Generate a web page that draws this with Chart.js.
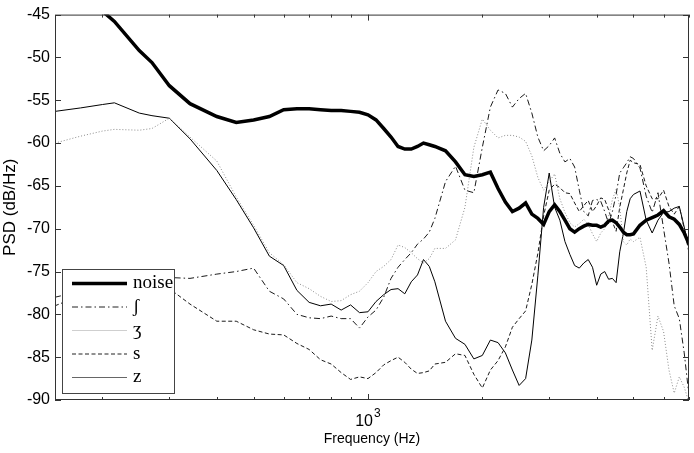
<!DOCTYPE html>
<html>
<head>
<meta charset="utf-8">
<script src="https://cdn.jsdelivr.net/npm/chart.js@4.4.1/dist/chart.umd.min.js"></script>
<style>
  html, body { margin: 0; padding: 0; background: #fff; }
  #chart { display: block; }
</style>
</head>
<body>
<canvas id="chart" width="694" height="453"></canvas>
<script>
// frequency bins (Hz) shared by every curve
const freqHz = [
  150, 175, 200, 215, 250, 270, 300, 340, 400, 450,
  500, 550, 600, 650, 700, 750, 800, 850, 900, 950,
  1000, 1050, 1100, 1150, 1200, 1250, 1300, 1350, 1400, 1450,
  1500, 1600, 1700, 1800, 1900,
  2000, 2100, 2200, 2300, 2400, 2500, 2600, 2700, 2800, 2900,
  3000, 3100, 3200, 3300, 3400, 3500, 3600, 3700, 3800, 3900,
  4000, 4100, 4200, 4300, 4400, 4500, 4600, 4700, 4800, 4900,
  5000, 5200, 5400, 5600, 5800, 6000, 6200, 6400, 6600, 6800, 7000,
];

// PSD values (dB/Hz)
const noise = [
  -40, -42.5, -44.6, -45.8, -49.2, -50.6, -53.3, -55.4, -56.9, -57.6,
  -57.3, -56.9, -56.1, -56.0, -56.0, -56.1, -56.2, -56.2, -56.3, -56.4,
  -56.7, -57.3, -58.3, -59.3, -60.4, -60.7, -60.7, -60.4, -60.0, -60.2,
  -60.4, -60.9, -62.2, -63.7, -63.9,
  -63.7, -63.4, -65.3, -66.9, -68.0, -67.6, -67.0, -68.3, -68.8, -69.5,
  -68.0, -67.2, -68.0, -69.0, -70.0, -70.4, -70.0, -69.7, -69.5, -69.6,
  -69.6, -69.8, -69.6, -69.1, -69.0, -69.3, -69.8, -70.4, -70.7, -70.7,
  -70.6, -69.6, -69.0, -68.7, -68.4, -67.9, -68.6, -68.9, -69.5, -70.5, -71.8,
];

const esh = [
  -78.0, -77.3, -76.8, -76.5, -76.0, -75.8, -75.7, -75.8, -75.3, -75.0,
  -74.6, -77.3, -78.2, -80.0, -80.4, -80.5, -80.2, -80.5, -80.5, -81.6,
  -80.3, -79.5, -78.0, -75.8, -74.5, -73.6, -72.8, -71.8, -71.2, -70.4,
  -68.8, -64.5, -62.7, -65.5, -65.8,
  -60.5, -55.8, -53.8, -54.2, -55.8, -54.8, -54.2, -56.5, -59.3, -60.9,
  -60.3, -59.4, -61.2, -62.2, -61.8, -62.8, -65.5, -68.0, -68.5, -66.7,
  -66.6, -66.8, -68.0, -69.4, -68.0, -66.0, -63.5, -62.9, -62.3, -61.6,
  -61.8, -62.9, -66.2, -68.1, -65.8, -70.0, -74.0, -79.0, -80.5, -84.5, -89.5,
];

const ezh = [
  -60.0, -59.2, -58.6, -58.4, -58.5, -58.3, -57.1, -59.3, -62.1, -66.3,
  -69.6, -72.8, -74.2, -76.3, -77.0, -77.9, -78.5, -78.4, -77.7, -77.3,
  -76.3, -75.0, -74.4, -73.6, -71.9, -72.2, -72.8, -73.5, -74.0, -73.5,
  -72.3, -72.3, -71.3, -67.5, -60.5,
  -57.2, -58.5, -59.4, -59.1, -59.1, -59.3, -59.8, -61.5, -64.0, -65.5,
  -64.5, -63.6, -66.5, -68.1, -69.3, -69.8, -69.4, -68.9, -69.5, -70.6,
  -71.5, -70.5, -70.0, -68.5, -66.6, -65.4, -67.5, -71.5, -71.9, -71.2,
  -71.5, -71.0, -74.5, -84.2, -80.2, -82.0, -86.5, -89.2, -87.3, -88.5, -90.3,
];

const sSound = [
  -79.0, -77.8, -76.8, -76.3, -76.2, -76.5, -77.0, -78.8, -80.8, -80.8,
  -81.8, -82.3, -82.4, -83.4, -84.1, -85.3, -85.8, -86.8, -87.6, -87.3,
  -87.5, -86.8, -85.9, -85.4, -85.0, -85.6, -86.4, -86.9, -86.8, -86.6,
  -85.8, -85.6, -84.6, -84.8, -87.0,
  -88.6, -86.5, -85.4, -83.8, -81.5, -80.5, -79.6, -76.5, -72.9, -68.5,
  -65.5, -64.8, -65.2, -65.8, -65.9, -67.0, -68.0, -67.3, -66.7, -68.0,
  -67.3, -66.4, -66.6, -67.8, -69.2, -70.3, -67.5, -65.5, -63.5, -62.0,
  -62.3, -62.5, -65.0, -66.5, -66.5, -65.5, -67.4, -68.3, -67.4, -70.0, -72.8,
];

const zSound = [
  -56.3, -55.9, -55.5, -55.3, -56.5, -56.8, -57.1, -59.5, -63.2, -66.6,
  -69.9, -73.2, -74.3, -77.2, -78.6, -79.0, -78.8, -79.5, -78.9, -79.8,
  -79.7, -78.5, -77.7, -77.1, -77.0, -77.6, -76.2, -75.4, -73.6, -74.4,
  -76.2, -80.8, -82.8, -83.5, -85.2,
  -84.8, -83.0, -83.3, -84.5, -86.5, -88.3, -87.5, -83.0, -75.5, -67.5,
  -63.5, -67.5, -69.0, -71.5, -73.0, -74.3, -74.6, -74.0, -73.6, -74.5,
  -76.6, -75.3, -75.0, -75.9, -75.8, -76.3, -72.7, -70.6, -68.0, -66.5,
  -66.0, -65.6, -69.0, -70.5, -69.0, -68.1, -68.0, -67.6, -67.4, -69.8, -72.2,
];

const seriesLabels = ["noise", "\u0283", "\u0292", "s", "z"];

// axis ticks
const yTickValues = [-90, -85, -80, -75, -70, -65, -60, -55, -50, -45];
const xMinorTicks = [200, 300, 400, 500, 600, 700, 800, 900, 2000, 3000, 4000, 5000, 6000, 7000];
const xMajorTicks = [1000];
const xMajorLabels = [["10", "3"]];

function qs(selector, parent = document) {
  return parent.querySelector(selector);
}

function points(values) {
  return freqHz.map((f, i) => ({ x: f, y: values[i] }));
}

// MATLAB-like box with inward ticks and the 10^3 label
const boxTicks = {
  id: "boxTicks",
  afterDraw(chart) {
    const { ctx, chartArea: a, scales } = chart;
    ctx.save();
    ctx.strokeStyle = "#333";
    ctx.lineWidth = 1;
    ctx.strokeRect(a.left + 0.5, a.top + 0.5, a.right - a.left - 1, a.bottom - a.top - 1);
    ctx.beginPath();
    yTickValues.forEach((v) => {
      const py = Math.round(scales.y.getPixelForValue(v)) + 0.5;
      ctx.moveTo(a.left, py);
      ctx.lineTo(a.left + 6, py);
      ctx.moveTo(a.right - 6, py);
      ctx.lineTo(a.right, py);
    });
    const xTick = (v, len) => {
      const px = Math.round(scales.x.getPixelForValue(v)) + 0.5;
      ctx.moveTo(px, a.bottom);
      ctx.lineTo(px, a.bottom - len);
      ctx.moveTo(px, a.top);
      ctx.lineTo(px, a.top + len);
    };
    xMinorTicks.forEach((v) => xTick(v, 3));
    xMajorTicks.forEach((v) => xTick(v, 6));
    ctx.stroke();

    ctx.fillStyle = "#000";
    ctx.textBaseline = "alphabetic";
    xMajorTicks.forEach((v, i) => {
      const px = scales.x.getPixelForValue(v);
      const [base, exp] = xMajorLabels[i];
      ctx.font = "16px 'Liberation Sans', Arial, sans-serif";
      ctx.textAlign = "right";
      ctx.fillText(base, px + 5, 426);
      ctx.font = "12px 'Liberation Sans', Arial, sans-serif";
      ctx.textAlign = "left";
      ctx.fillText(exp, px + 6, 417);
    });
    ctx.restore();
  },
};

// legend box drawn inside the plot, bottom left
const legendStyles = [
  { color: "#000", width: 3.5, dash: [] },
  { color: "#222", width: 1, dash: [6, 3, 1.5, 3] },
  { color: "#cfcfcf", width: 1.2, dash: [] },
  { color: "#222", width: 1, dash: [4, 2.5] },
  { color: "#666", width: 1.2, dash: [] },
];

const insideLegend = {
  id: "insideLegend",
  afterDraw(chart) {
    const { ctx, chartArea: a } = chart;
    const x0 = a.left + 7;
    const y0 = a.bottom - 131;
    ctx.save();
    ctx.fillStyle = "#fff";
    ctx.fillRect(x0, y0, 112, 124);
    ctx.strokeStyle = "#444";
    ctx.lineWidth = 1;
    ctx.strokeRect(x0 + 0.5, y0 + 0.5, 112, 124);
    chart.data.datasets.forEach((ds, i) => {
      const st = legendStyles[i];
      const y = y0 + 14.5 + i * 23.5;
      ctx.beginPath();
      ctx.setLineDash(st.dash);
      ctx.lineWidth = st.width;
      ctx.strokeStyle = st.color;
      ctx.moveTo(x0 + 10, y);
      ctx.lineTo(x0 + 65, y);
      ctx.stroke();
      ctx.setLineDash([]);
      ctx.fillStyle = "#000";
      ctx.font = "19px 'Liberation Serif', 'Times New Roman', serif";
      ctx.textAlign = "left";
      ctx.textBaseline = "middle";
      ctx.fillText(ds.label, x0 + 71, y);
    });
    ctx.restore();
  },
};

function chart() {
  const ctx = qs("#chart").getContext("2d");
  new Chart(ctx, {
    type: "line",
    data: {
      datasets: [
        { label: seriesLabels[0], data: points(noise), borderColor: "#000", borderWidth: 3.5 },
        { label: seriesLabels[1], data: points(esh), borderColor: "#1a1a1a", borderWidth: 1, borderDash: [6, 3, 1.5, 3] },
        { label: seriesLabels[2], data: points(ezh), borderColor: "#8c8c8c", borderWidth: 1, borderDash: [1, 2] },
        { label: seriesLabels[3], data: points(sSound), borderColor: "#1a1a1a", borderWidth: 1, borderDash: [4, 2.5] },
        { label: seriesLabels[4], data: points(zSound), borderColor: "#000", borderWidth: 1 },
      ],
    },
    options: {
      responsive: false,
      animation: false,
      devicePixelRatio: 1,
      layout: { padding: { top: 10, right: 5, left: 0, bottom: 0 } },
      elements: {
        point: { radius: 0, hoverRadius: 0 },
        line: { tension: 0, fill: false },
      },
      datasets: { line: { clip: 0 } },
      plugins: {
        legend: { display: false },
        tooltip: { enabled: false },
      },
      events: [],
      scales: {
        x: {
          type: "logarithmic",
          min: 150,
          max: 7000,
          grid: { display: false, drawTicks: false },
          border: { display: false },
          ticks: { display: false },
          afterBuildTicks: (scale) => {
            scale.ticks = xMinorTicks.concat(xMajorTicks).sort((p, q) => p - q).map((v) => ({ value: v }));
          },
          afterFit: (scale) => { scale.height = 53; },
          title: {
            display: true,
            text: "Frequency (Hz)",
            color: "#000",
            font: { family: "'Liberation Sans', Arial, sans-serif", size: 14 },
            padding: { top: 0, bottom: 5 },
          },
        },
        y: {
          min: -90,
          max: -45,
          grid: { display: false, drawTicks: false },
          border: { display: false },
          afterBuildTicks: (scale) => {
            scale.ticks = yTickValues.map((v) => ({ value: v }));
          },
          afterFit: (scale) => { scale.width = 55; },
          ticks: {
            padding: 5,
            color: "#000",
            font: { family: "'Liberation Sans', Arial, sans-serif", size: 16 },
          },
          title: {
            display: true,
            text: "PSD (dB/Hz)",
            color: "#000",
            font: { family: "'Liberation Sans', Arial, sans-serif", size: 17 },
            padding: { top: 0, bottom: 0 },
          },
        },
      },
    },
    plugins: [boxTicks, insideLegend],
  });
}

chart();
</script>
</body>
</html>
